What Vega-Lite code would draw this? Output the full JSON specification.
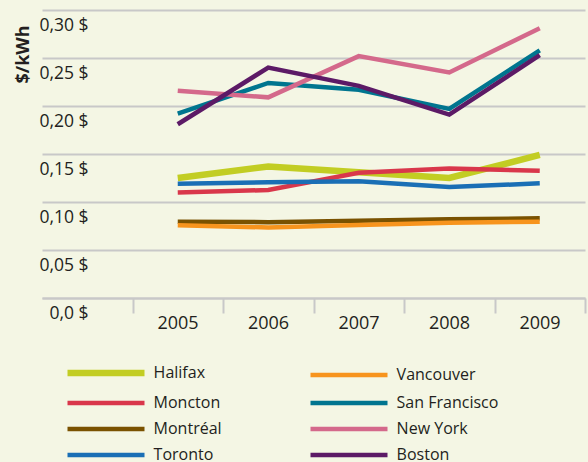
{
  "$schema": "https://vega.github.io/schema/vega-lite/v6.json",
  "width": 543,
  "height": 288,
  "autosize": {"type": "none"},
  "padding": {"left": 42, "top": 10, "right": 3, "bottom": 164},
  "background": "#f4f6e4",
  "config": {"view": {"stroke": null}, "font": "Open Sans"},
  "data": {"values": [
    {"city": "Halifax", "year": 2005, "price": 0.125},
    {"city": "Halifax", "year": 2006, "price": 0.137},
    {"city": "Halifax", "year": 2007, "price": 0.131},
    {"city": "Halifax", "year": 2008, "price": 0.125},
    {"city": "Halifax", "year": 2009, "price": 0.149},
    {"city": "Moncton", "year": 2005, "price": 0.110},
    {"city": "Moncton", "year": 2006, "price": 0.1125},
    {"city": "Moncton", "year": 2007, "price": 0.1305},
    {"city": "Moncton", "year": 2008, "price": 0.135},
    {"city": "Moncton", "year": 2009, "price": 0.1325},
    {"city": "Montréal", "year": 2005, "price": 0.0795},
    {"city": "Montréal", "year": 2006, "price": 0.079},
    {"city": "Montréal", "year": 2007, "price": 0.0805},
    {"city": "Montréal", "year": 2008, "price": 0.082},
    {"city": "Montréal", "year": 2009, "price": 0.083},
    {"city": "Toronto", "year": 2005, "price": 0.119},
    {"city": "Toronto", "year": 2006, "price": 0.1205},
    {"city": "Toronto", "year": 2007, "price": 0.1215},
    {"city": "Toronto", "year": 2008, "price": 0.1155},
    {"city": "Toronto", "year": 2009, "price": 0.1195},
    {"city": "Vancouver", "year": 2005, "price": 0.0757},
    {"city": "Vancouver", "year": 2006, "price": 0.0735},
    {"city": "Vancouver", "year": 2007, "price": 0.076},
    {"city": "Vancouver", "year": 2008, "price": 0.0785},
    {"city": "Vancouver", "year": 2009, "price": 0.0795},
    {"city": "San Francisco", "year": 2005, "price": 0.192},
    {"city": "San Francisco", "year": 2006, "price": 0.224},
    {"city": "San Francisco", "year": 2007, "price": 0.217},
    {"city": "San Francisco", "year": 2008, "price": 0.197},
    {"city": "San Francisco", "year": 2009, "price": 0.258},
    {"city": "New York", "year": 2005, "price": 0.216},
    {"city": "New York", "year": 2006, "price": 0.209},
    {"city": "New York", "year": 2007, "price": 0.252},
    {"city": "New York", "year": 2008, "price": 0.235},
    {"city": "New York", "year": 2009, "price": 0.281},
    {"city": "Boston", "year": 2005, "price": 0.181},
    {"city": "Boston", "year": 2006, "price": 0.240},
    {"city": "Boston", "year": 2007, "price": 0.221},
    {"city": "Boston", "year": 2008, "price": 0.191},
    {"city": "Boston", "year": 2009, "price": 0.253}
  ]},
  "mark": {"type": "line", "strokeCap": "butt", "strokeJoin": "miter"},
  "encoding": {
    "x": {
      "field": "year", "type": "quantitative",
      "scale": {"domain": [2003.5, 2009.5], "nice": false, "zero": false},
      "axis": {
        "title": null,
        "values": [2004.5, 2005.5, 2006.5, 2007.5, 2008.5, 2009.5],
        "labelExpr": "datum.value > 2009 ? '' : format(datum.value + 0.5, 'd')",
        "labelOffset": 45,
        "labelFlush": false,
        "labelOverlap": false,
        "labelBound": false,
        "grid": false,
        "domainColor": "#c8c8c8",
        "domainWidth": 2,
        "tickColor": "#c8c8c8",
        "tickWidth": 2,
        "tickSize": 15,
        "labelPadding": 1,
        "labelFontSize": 18,
        "labelColor": "#231f20"
      }
    },
    "y": {
      "field": "price", "type": "quantitative",
      "scale": {"domain": [0, 0.3], "nice": false},
      "axis": {
        "values": [0, 0.05, 0.1, 0.15, 0.2, 0.25, 0.3],
        "labelExpr": "datum.value == 0 ? '0,0 $' : replace(format(datum.value, '.2f'), '.', ',') + ' $'",
        "domain": false,
        "ticks": false,
        "grid": true,
        "gridColor": "#c8c8c8",
        "gridWidth": 2,
        "labelAlign": "right",
        "labelBaseline": "middle",
        "labelPadding": -46,
        "labelOffset": 15,
        "labelFontSize": 17.5,
        "labelColor": "#231f20",
        "title": "$/kWh",
        "titleFontSize": 18,
        "titleFontWeight": "bold",
        "titleColor": "#231f20",
        "titleX": -19,
        "titleY": 44,
        "titleAlign": "center",
        "titleBaseline": "middle",
        "titleAngle": -90
      }
    },
    "color": {
      "field": "city", "type": "nominal",
      "scale": {
        "domain": ["Halifax", "Moncton", "Montréal", "Toronto", "Vancouver", "San Francisco", "New York", "Boston"],
        "range": ["#c2cd23", "#d9374b", "#7a5200", "#1a6fb5", "#f7941d", "#00758f", "#d4698b", "#5c1a66"]
      },
      "legend": {
        "orient": "none",
        "legendX": 56,
        "legendY": 355,
        "columns": 2,
        "title": null,
        "symbolType": "M-10,0H10",
        "symbolSize": 59.3,
        "symbolStrokeWidth": 5,
        "labelFontSize": 16,
        "labelColor": "#231f20",
        "labelOffset": 39.6,
        "rowPadding": 8,
        "columnPadding": 79,
        "padding": 0,
        "encode": {"symbols": {"update": {"strokeWidth": {"signal": "datum.value === 'Halifax' ? 10 : 5"}}}}
      }
    },
    "strokeWidth": {
      "field": "city", "type": "nominal",
      "scale": {
        "type": "ordinal",
        "domain": ["Halifax", "Moncton", "Montréal", "Toronto", "Vancouver", "San Francisco", "New York", "Boston"],
        "range": [6.5, 4.5, 4.5, 4.5, 4.5, 4.5, 4.5, 4.5]
      },
      "legend": null
    },
    "order": {"field": "year"}
  }
}
